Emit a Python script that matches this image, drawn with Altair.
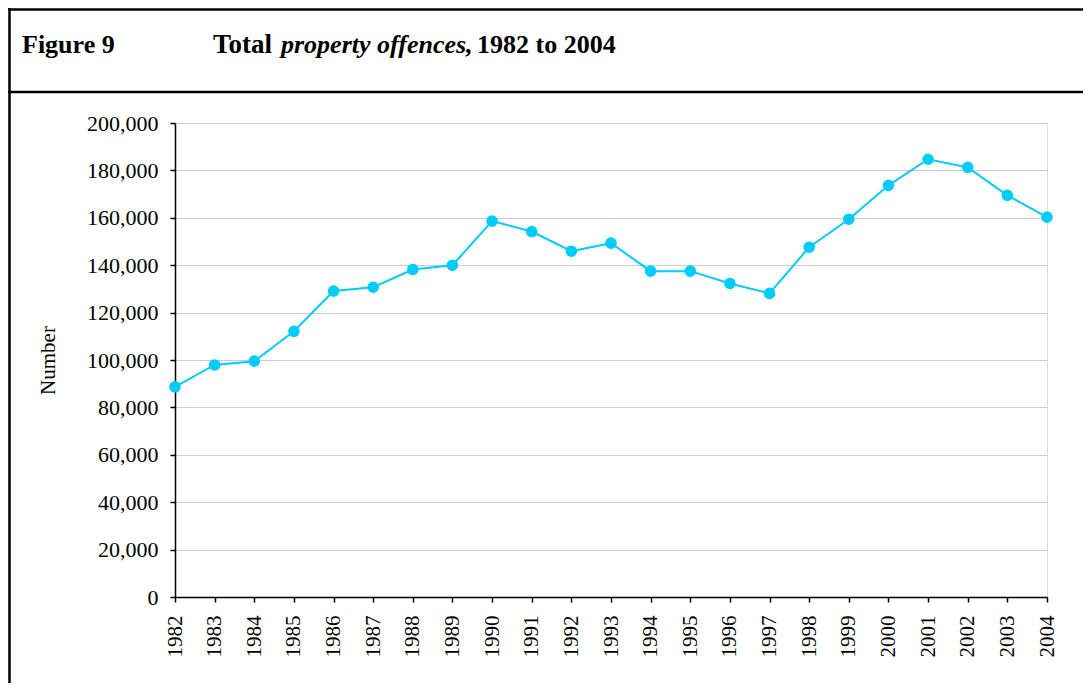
import altair as alt
import pandas as pd

years = [str(y) for y in range(1982, 2005)]
offences = [88700, 97900, 99500, 112100, 129100, 130700, 138200, 140000,
            158600, 154200, 145900, 149300, 137500, 137500, 132300, 128100,
            147600, 159400, 173700, 184700, 181300, 169500, 160300]
y_ticks = [0, 20000, 40000, 60000, 80000, 100000, 120000, 140000, 160000, 180000, 200000]

title_parts = ["Figure 9", "Total", "property offences", ",", "1982 to 2004"]
title_styles = ["normal", "normal", "italic", "normal", "normal"]

df = pd.DataFrame({"year": years, "offences": offences})
one = pd.DataFrame({"k": [0]})

W, H = 872, 474
FONT = "Liberation Serif"
CYAN = "#00ccff"

x_enc = alt.X("year:O", scale=alt.Scale(type="point", padding=0),
              axis=alt.Axis(title=None, labelAngle=270, labelFontSize=21, labelFont=FONT,
                            labelColor="black", tickSize=5, labelPadding=13,
                            domainColor="black", domainWidth=1.5, tickColor="black",
                            tickWidth=1.5, grid=False))
y_enc = alt.Y("offences:Q", scale=alt.Scale(domain=[0, 200000], nice=False),
              axis=alt.Axis(title="Number", values=y_ticks, format=",d", labelFontSize=22,
                            labelFont=FONT, labelColor="black", tickSize=5, labelPadding=12,
                            domainColor="black", domainWidth=1.5, tickColor="black",
                            tickWidth=1.5, grid=True, gridColor="#cccccc", gridWidth=1,
                            titleFont=FONT, titleFontSize=21, titleFontWeight="normal",
                            titleColor="black", titleAngle=270, titleX=-127, titleY=H / 2,
                            titleAlign="center", titleBaseline="middle"))

line = alt.Chart(df).mark_line(color=CYAN, strokeWidth=2).encode(x=x_enc, y=y_enc)
pts = alt.Chart(df).mark_circle(color=CYAN, opacity=1, size=135).encode(x="year:O", y="offences:Q")

def txt(s, x, style, size=26):
    return alt.Chart(one).mark_text(font=FONT, fontSize=size, fontWeight="bold", fontStyle=style,
                                    align="left", baseline="alphabetic", color="black").encode(
        x=alt.value(x), y=alt.value(-70), text=alt.value(s))

t1 = txt(title_parts[0], -153, title_styles[0])
t2 = txt(title_parts[1], 38, title_styles[1], 27)
t3 = txt(title_parts[2], 106, title_styles[2], 26)
t4 = txt(title_parts[3], 290, title_styles[3])
t5 = txt(title_parts[4], 302, title_styles[4])

def rule(x, x2, y, y2):
    return alt.Chart(one).mark_rule(color="black", strokeWidth=2.5).encode(
        x=alt.value(x), x2=alt.value(x2), y=alt.value(y), y2=alt.value(y2))

left_border = rule(-165.5, -165.5, -116, H + 120)
top_border = rule(-170, W + 60, -113.5, -113.5)
sep = rule(-170, W + 60, -31, -31)

chart = alt.layer(line, pts, t1, t2, t3, t4, t5, left_border, top_border, sep).properties(
    width=W, height=H,
    padding={"left": 167, "top": 115, "right": 36, "bottom": 86},
    autosize=alt.AutoSizeParams(type="none"),
).configure_view(stroke=None).configure(background="white")

chart.save("out.html", embed_options={"renderer": "svg", "actions": False})
